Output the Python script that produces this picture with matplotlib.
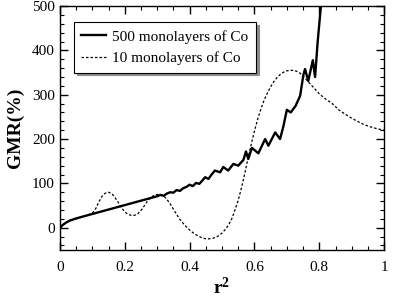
import numpy as np
import matplotlib
matplotlib.use("Agg")
import matplotlib.pyplot as plt
from matplotlib.ticker import MultipleLocator, FixedLocator, FixedFormatter

plt.rcParams['font.family'] = ['Liberation Serif', 'DejaVu Serif']
plt.rcParams['mathtext.fontset'] = 'custom'
plt.rcParams['mathtext.bf'] = 'Liberation Serif:bold'
plt.rcParams['mathtext.rm'] = 'Liberation Serif'

#### data

# 500 monolayers of Co (solid)
x500 = [0, .01, .02, .03, .05, .07, .09, .11, .13, .15, .17, .19, .21, .23, .25, .27, .29,
        .30, .31, .32, .33, .34, .35, .36, .37, .38, .39, .40, .41, .42, .43, .44, .448,
        .458, .468, .478, .494, .504, .519, .535, .55, .566, .574, .581, .592, .612, .633,
        .643, .664, .679, .689, .70, .712, .727, .741, .751, .756, .766, .78, .787, .795,
        .802, .807]
y500 = [0, 7, 12, 16, 21, 25, 29, 33, 37, 41, 45, 49, 53, 57, 61, 65, 69,
        71, 74, 72, 77, 80, 79, 85, 83, 89, 92, 97, 94, 101, 99, 107, 114,
        110, 120, 129, 125, 137, 129, 144, 140, 153, 172, 155, 180, 168, 200,
        185, 215, 200, 228, 266, 260, 275, 298, 345, 358, 331, 378, 340, 420,
        476, 515]

# 10 monolayers of Co (dashed)
x10 = [0, .02, .04, .06, .08, .10, .11, .12, .13, .14, .15, .16, .17, .18, .19, .20,
       .21, .22, .23, .24, .25, .26, .27, .28, .29, .30, .31, .32, .33, .34, .35, .36,
       .37, .38, .39, .40, .41, .42, .43, .44, .45, .46, .47, .48, .49, .50, .51, .52,
       .53, .54, .55, .56, .57, .58, .59, .60, .61, .62, .63, .64, .65, .66, .67, .68,
       .69, .70, .71, .72, .73, .74, .75, .76, .78, .80, .82, .84, .86, .88, .90, .92,
       .94, .96, .98, 1.0]
y10 = [0, 12, 18, 22, 27, 33, 42, 58, 71, 78, 80, 77, 68, 57, 45, 36,
       30, 28, 28, 31, 39, 49, 60, 68, 73, 75, 75, 72, 64, 54, 42, 30,
       19, 10, 2, -5, -11, -16, -20, -23, -25, -25, -24, -22, -18, -12, -4, 6,
       20, 40, 62, 90, 122, 156, 188, 218, 245, 268, 288, 304, 318, 330, 339, 346,
       351, 354, 355, 355, 353, 349, 342, 334, 318, 302, 290, 280, 266, 256, 247, 239,
       232, 227, 223, 220]

xticks = [0, 0.2, 0.4, 0.6, 0.8, 1.0]
xticklabels = ['0', '0.2', '0.4', '0.6', '0.8', '1']
yticks = [0, 100, 200, 300, 400, 500]

fig = plt.figure(figsize=(3.94, 3.04), dpi=100)
ax = fig.add_axes([0.152, 0.178, 0.823, 0.802])

ax.plot(x500, y500, color='black', lw=1.7, label='500 monolayers of Co')
ax.plot(x10, y10, color='black', lw=0.9, linestyle=(0, (2.0, 1.6)), label='10 monolayers of Co')

ax.set_xlim(0, 1)
ax.set_ylim(-50, 500)
ax.xaxis.set_major_locator(FixedLocator(xticks))
ax.xaxis.set_major_formatter(FixedFormatter(xticklabels))
ax.xaxis.set_minor_locator(MultipleLocator(0.05))
ax.yaxis.set_major_locator(FixedLocator(yticks))
ax.yaxis.set_minor_locator(MultipleLocator(20))
ax.tick_params(which='both', direction='in', top=True, right=True, labelsize=11)
ax.tick_params(which='major', length=6, width=1)
ax.tick_params(which='minor', length=3, width=0.8)
ax.tick_params(axis='x', pad=8)
for s in ax.spines.values():
    s.set_linewidth(1)

ax.set_ylabel('GMR(%)', fontsize=14, fontweight='bold', labelpad=6)
ax.set_xlabel(r'$\mathbf{r^2}$', fontsize=14, labelpad=2)

leg = ax.legend(loc='upper left', bbox_to_anchor=(0.043, 0.934), fontsize=11,
                frameon=True, fancybox=False, shadow={'color': '0.55', 'alpha': 1},
                edgecolor='black', framealpha=1, handlelength=1.6, handletextpad=0.4,
                borderpad=0.5, labelspacing=0.5, borderaxespad=0)
leg.get_frame().set_linewidth(0.8)

fig.savefig('out.png', dpi=100)
